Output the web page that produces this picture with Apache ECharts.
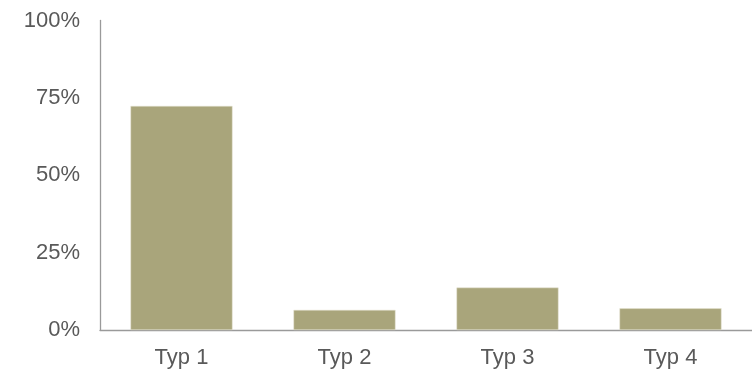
<!DOCTYPE html>
<html lang="en">
<head>
    <meta charset="UTF-8">
    <title>Typ</title>
    <script src="https://cdn.jsdelivr.net/npm/echarts@6/dist/echarts.min.js"></script>
    <style>
        html, body { margin: 0; padding: 0; background: #fff; }
        #main { width: 752px; height: 373px; }
    </style>
</head>
<body>
<div id="main"></div>
<script>
    var categories = ['Typ 1', 'Typ 2', 'Typ 3', 'Typ 4'];
    var values = [72.4, 6.5, 13.7, 7.0];
    var yTicks = [0, 25, 50, 75, 100];

    var chart = echarts.init(document.getElementById('main'));
    chart.setOption({
        animation: false,
        grid: { left: 100, top: 20.5, width: 654, height: 309.5 },
        xAxis: {
            type: 'category',
            data: categories,
            axisLine: { lineStyle: { color: '#9a9a9a', width: 1.3 } },
            axisTick: { show: false },
            axisLabel: { color: '#595959', fontSize: 22, fontFamily: 'Liberation Sans, Arial', margin: 17 }
        },
        yAxis: {
            type: 'value',
            min: yTicks[0],
            max: yTicks[yTicks.length - 1],
            interval: 25,
            splitLine: { show: false },
            axisLine: { show: true, lineStyle: { color: '#9a9a9a', width: 1.3 } },
            axisTick: { show: false },
            axisLabel: {
                color: '#595959', fontSize: 22, fontFamily: 'Liberation Sans, Arial', margin: 20,
                formatter: function (v) { return v + '%'; }
            }
        },
        series: [{
            type: 'bar',
            data: values,
            barWidth: 102,
            itemStyle: { color: '#a9a57b', borderColor: '#e6e4d4', borderWidth: 0.5 }
        }]
    });
</script>
</body>
</html>
